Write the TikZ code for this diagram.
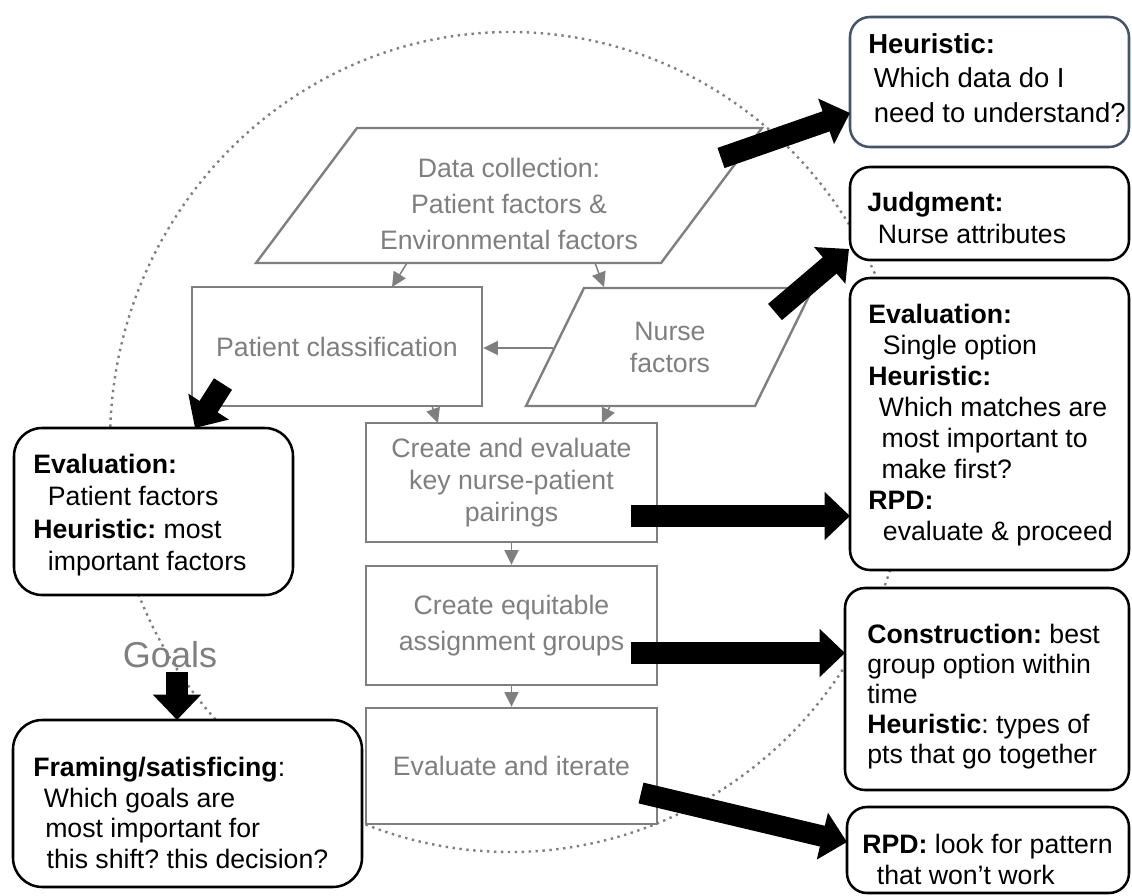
\documentclass[tikz,border=0pt]{standalone}
\usepackage{fontspec}
\setmainfont{Liberation Sans}
\usetikzlibrary{arrows.meta}
\definecolor{gr}{RGB}{127,127,127}
\definecolor{slate}{RGB}{68,84,106}
\newcommand\ind[1]{\hspace*{#1em}}
\begin{document}
\frenchspacing
\begin{tikzpicture}[x=0.75pt,y=-0.75pt,
  grayline/.style={draw=gr, line width=1.8pt, fill=white, line join=miter},
  graybox/.style={draw=gr, line width=1.8pt, fill=white, text=gr, align=center,
    inner sep=2pt, font=\fontsize{20}{25}\selectfont},
  graytext/.style={text=gr, align=center, inner sep=0pt},
  grayarrow/.style={draw=gr, line width=1.1pt, -{Triangle[length=11pt,width=10.5pt]}},
  bbox/.style={draw=black, line width=1.9pt, fill=white, rounded corners=15pt, inner sep=0pt},
  btext/.style={anchor=west, align=left, inner sep=0pt},
  fat/.style={draw=black, line width=16pt, -{Triangle[length=19pt,width=35pt]}},
  dotcirc/.style={draw=gr, line width=1.8pt, dash pattern=on 1.8pt off 3.4pt}
]
\useasboundingbox (0,0) rectangle (1132,896);

% dotted circle
\draw[dotcirc] (510,442) ellipse [x radius=300pt, y radius=307.5pt];

% data collection parallelogram
\draw[grayline] (357,128) -- (762,128) -- (661,263) -- (256,263) -- cycle;
\node[graytext, font=\fontsize{20}{27}\selectfont] (data) at (509,204)
  {Data collection:\\Patient factors \&\\Environmental factors};

% nurse factors parallelogram
\draw[grayline] (584,288) -- (813,288) -- (755,406) -- (526,406) -- cycle;
\node[graytext, font=\fontsize{20}{24}\selectfont] (nurse) at (670,347) {Nurse\\factors};

% gray rectangles
\node[graybox, minimum width=217.5pt, minimum height=89.25pt] (pc) at (337,346.5)
  {Patient classification};
\node[graybox, minimum width=218.25pt, minimum height=89.25pt, font=\fontsize{20}{24}\selectfont] (m1) at (511.5,482.5)
  {Create and evaluate\\key nurse-patient\\pairings};
\node[graybox, minimum width=218.25pt, minimum height=89.25pt, font=\fontsize{20}{27}\selectfont] (m2) at (511.5,625.5)
  {Create equitable\\assignment groups};
\node[graybox, minimum width=218.25pt, minimum height=87pt] (m3) at (511.5,766)
  {Evaluate and iterate};

% gray connector end points
\coordinate (dA) at (407,263);
\coordinate (pcA) at (392,287);
\coordinate (dB) at (595,263);
\coordinate (nuA) at (604,287);
\coordinate (nuL) at (553,348);
\coordinate (pcB) at (432,406);
\coordinate (m1A) at (438,423);
\coordinate (nuB) at (610,406);
\coordinate (m1B) at (602,423);

\draw[grayarrow] (dA) -- (pcA);
\draw[grayarrow] (dB) -- (nuA);
\draw[grayarrow] (nuL) -- (pc.east |- nuL);
\draw[grayarrow] (pcB) -- (m1A);
\draw[grayarrow] (nuB) -- (m1B);
\draw[grayarrow] (m1.south) -- (m2.north);
\draw[grayarrow] (m2.south) -- (m3.north);

% Goals
\node[text=gr, inner sep=0pt, font=\fontsize{27}{30}\selectfont] (goals) at (170,655) {Goals};

% black boxes, right
\node[bbox, draw=slate, minimum width=209.25pt, minimum height=97.5pt] (hb) at (989.5,82) {};
\node[btext, font=\fontsize{20.6}{26}\selectfont] (hbt) at (868,78)
  {\textbf{Heuristic:}\\\ind{0.2}Which data do I\\\ind{0.2}need to understand?};

\node[bbox, minimum width=209.25pt, minimum height=69.75pt] (jb) at (989.5,213.5) {};
\node[btext, font=\fontsize{20}{24}\selectfont] (jbt) at (867,218)
  {\textbf{Judgment:}\\\ind{0.4}Nurse attributes};

\node[bbox, minimum width=209.25pt, minimum height=219pt] (eb) at (989.5,424) {};
\node[btext, font=\fontsize{20}{23.25}\selectfont] (ebt) at (868,425)
  {\textbf{Evaluation:}\\\ind{0.55}Single option\\\textbf{Heuristic:}\\
   \ind{0.4}Which matches are\\\ind{0.5}most important to\\\ind{0.5}make first?\\
   \textbf{RPD:}\\\ind{0.55}evaluate \& proceed};

\node[bbox, minimum width=213pt, minimum height=151.5pt] (cb) at (987,689) {};
\node[btext, font=\fontsize{20}{22.5}\selectfont] (cbt) at (867,697)
  {\textbf{Construction:} best\\group option within\\time\\
   \textbf{Heuristic}: types of\\pts that go together};

\node[bbox, minimum width=211.5pt, minimum height=64.5pt] (rb) at (988,850) {};
\node[btext, font=\fontsize{20}{23.25}\selectfont] (rbt) at (862,859)
  {\textbf{RPD:} look for pattern\\\ind{0.55}that won’t work};

% black boxes, left
\node[bbox, rounded corners=21pt, minimum width=209.25pt, minimum height=125.25pt] (le) at (153.5,511.5) {};
\node[btext, font=\fontsize{20}{24.25}\selectfont] (let) at (33,515)
  {\textbf{Evaluation:}\\\ind{0.55}Patient factors\\\textbf{Heuristic:} most\\\ind{0.55}important factors};

\node[bbox, rounded corners=22pt, minimum width=261.75pt, minimum height=125.25pt] (fb) at (187.5,803.5) {};
\node[btext, font=\fontsize{20}{23}\selectfont] (fbt) at (33,813)
  {\textbf{Framing/satisficing}:\\\ind{0.4}Which goals are\\\ind{0.45}most important for\\\ind{0.5}this shift? this decision?};

% fat arrows
\coordinate (t1) at (721,158);   \coordinate (h1) at (850,113);
\coordinate (t2) at (775,312);   \coordinate (h2) at (849,249);
\coordinate (t3) at (223,384);   \coordinate (h3) at (195,428);
\coordinate (t4) at (177,672);   \coordinate (h4) at (177,720);
\coordinate (t5) at (631,516);   \coordinate (h5) at (850,516);
\coordinate (t6) at (631,653);   \coordinate (h6) at (845,653);
\coordinate (t7) at (641,793);   \coordinate (h7) at (847,842);
\draw[fat] (t1) -- (h1);
\draw[fat] (t2) -- (h2);
\draw[fat] (t3) -- (h3);
\draw[fat] (t4) -- (h4);
\draw[fat] (t5) -- (h5);
\draw[fat] (t6) -- (h6);
\draw[fat] (t7) -- (h7);
\end{tikzpicture}
\end{document}
